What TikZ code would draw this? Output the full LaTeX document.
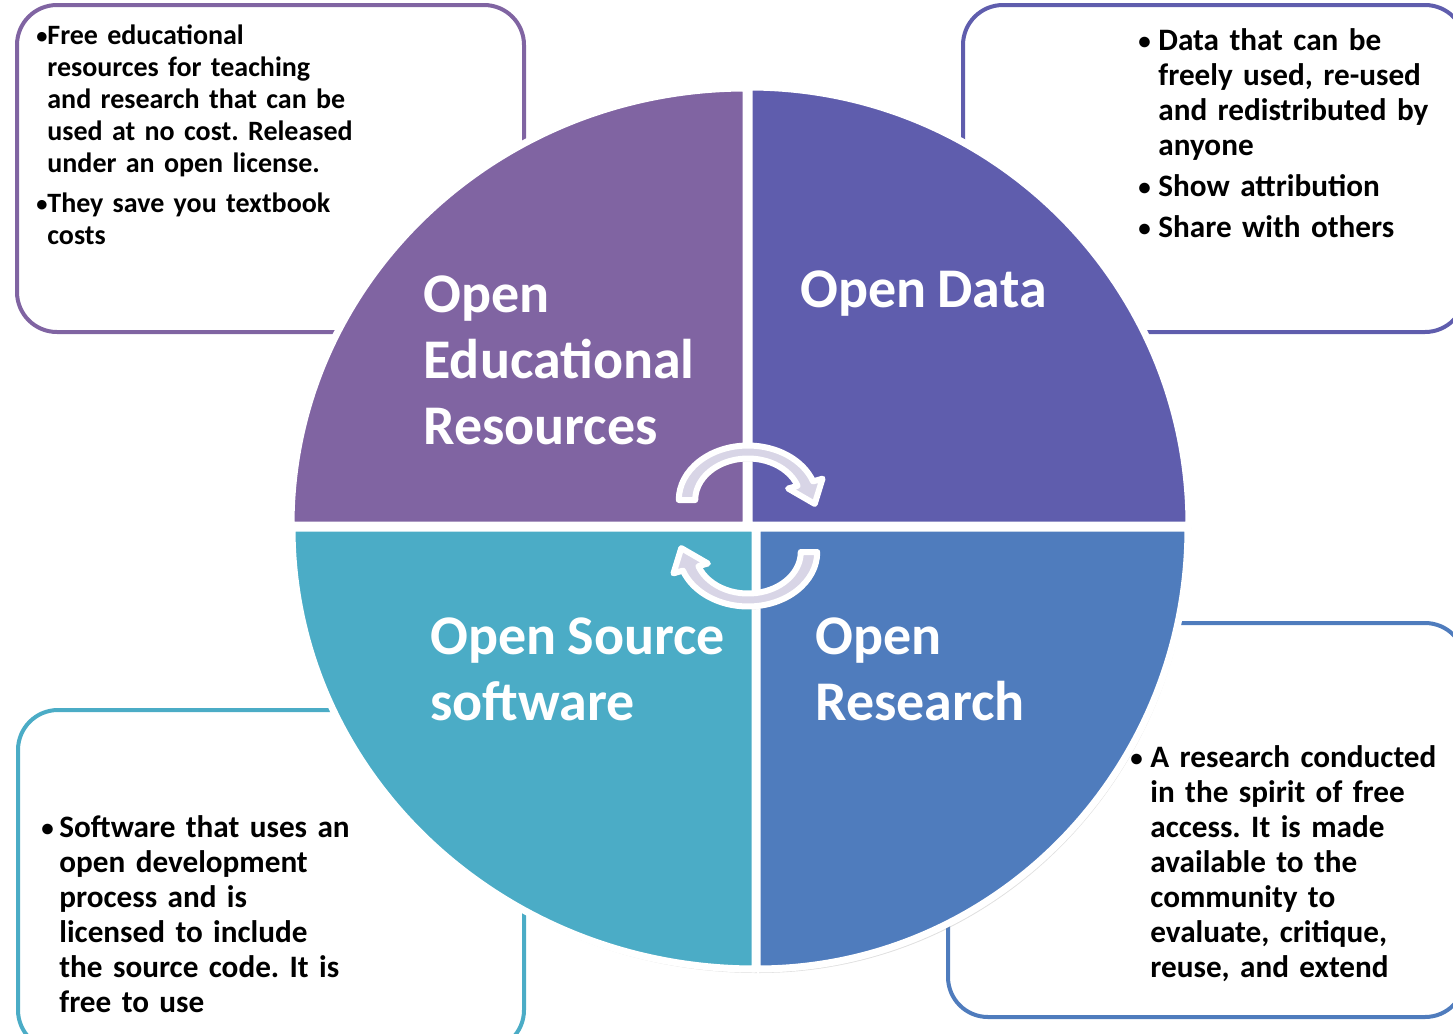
\documentclass[tikz,border=0pt]{standalone}
\usepackage{fontspec}
\setmainfont{Carlito}
\usetikzlibrary{shadows}

\definecolor{oerpurple}{HTML}{8064A2}
\definecolor{datablue}{HTML}{5F5DAD}
\definecolor{srcteal}{HTML}{4BACC6}
\definecolor{resblue}{HTML}{4F7CBD}
\definecolor{arrowlav}{HTML}{D8D5E6}

\newcommand{\bul}[1]{\llap{\makebox[#1][l]{\raisebox{.5pt}{\scalebox{.8}{\textbullet}}}}}
\newcommand{\gap}[1]{\par\vspace{#1}\noindent}

\tikzset{
  sector/.style={draw=white, line width=3.5pt, line join=round,
    drop shadow={shadow xshift=1pt, shadow yshift=-2pt, opacity=.25}},
  infobox/.style={line width=2pt, rounded corners=20pt},
  bodytext/.style={anchor=base west, inner sep=0pt, text width=190pt, align=left,
    font=\bfseries\frenchspacing\fontsize{15.6}{17.5}\selectfont},
  smalltext/.style={bodytext, font=\bfseries\frenchspacing\fontsize{14}{16.1}\selectfont},
  bigtext/.style={anchor=base west, inner sep=0pt, text width=200pt, align=left,
    text=white, font=\bfseries\fontsize{28}{33}\selectfont,
    execute at begin node={\spaceskip=.2em\relax}},
  cyclearrow/.style={fill=arrowlav, draw=white, line width=3pt, line join=round,
    drop shadow={shadow xshift=.8pt, shadow yshift=-1.5pt, opacity=.25}}
}

\begin{document}
\begin{tikzpicture}[x=0.5pt,y=-0.5pt]
\useasboundingbox (0,0) rectangle (1453,1034);

\draw[infobox, oerpurple] (17,5) rectangle (524,332);
\draw[infobox, datablue] (963,5) rectangle (1465,332);
\draw[infobox, srcteal] (18,710) rectangle (524,1050);
\draw[infobox, resblue] (948,623) rectangle (1465,1017);

\draw[sector, fill=oerpurple]
  (746,525) -- (291,525)
  arc[start angle=180, end angle=270, x radius=455, y radius=437] -- cycle;
\draw[sector, fill=datablue]
  (749,525) -- (749,87)
  arc[start angle=270, end angle=360, x radius=440, y radius=438] -- cycle;
\draw[sector, fill=srcteal]
  (755,528) -- (755,969)
  arc[start angle=90, end angle=180, x radius=463, y radius=441] -- cycle;
\draw[sector, fill=resblue]
  (757,528) -- (1188,528)
  arc[start angle=0, end angle=90, x radius=431, y radius=441] -- cycle;

\begin{scope}[shift={(748,500)}, xscale=61, yscale=48]
\draw[cyclearrow]
  (180:1.135) arc[start angle=180, end angle=340, radius=1.135]
  -- (340:1.3) -- (1.094,0.081) -- (340:0.7)
  -- (340:0.865) arc[start angle=340, end angle=180, radius=0.865] -- cycle;
\end{scope}

\begin{scope}[shift={(748,552)}, rotate=180, xscale=61, yscale=48]
\draw[cyclearrow]
  (180:1.135) arc[start angle=180, end angle=340, radius=1.135]
  -- (340:1.3) -- (1.094,0.081) -- (340:0.7)
  -- (340:0.865) arc[start angle=340, end angle=180, radius=0.865] -- cycle;
\end{scope}

\node[bigtext] (oerlabel) at (423,312) {Open\\Educational\\Resources};
\node[bigtext] (datalabel) at (800,307) {Open Data};
\node[bigtext] (srclabel) at (430,654) {Open Source\\software};
\node[bigtext] (reslabel) at (815,654) {Open\\Research};

\node[smalltext] (oertext) at (47,44)
  {\bul{5.5pt}Free educational\\resources for teaching\\and research that can be\\used at no cost. Released\\under an open license.\gap{3.5pt}\bul{5.5pt}They save you textbook\\costs};
\node[bodytext] (datatext) at (1158,50)
  {\bul{10pt}Data that can be\\freely used, re-used\\and redistributed by\\anyone\gap{3pt}\bul{10pt}Show attribution\gap{3pt}\bul{10pt}Share with others};
\node[bodytext] (srctext) at (59,837)
  {\bul{9pt}Software that uses an\\open development\\process and is\\licensed to include\\the source code. It is\\free to use};
\node[bodytext] (restext) at (1150,767)
  {\bul{10pt}A research conducted\\in the spirit of free\\access. It is made\\available to the\\community to\\evaluate, critique,\\reuse, and extend};

\end{tikzpicture}
\end{document}
